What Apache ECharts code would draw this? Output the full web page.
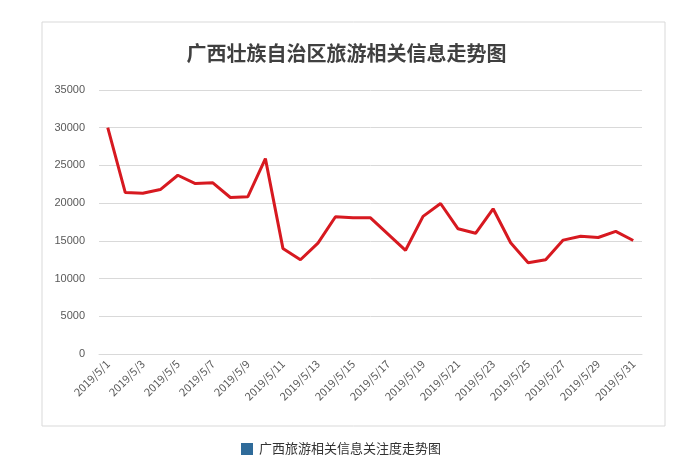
<!DOCTYPE html>
<html><head><meta charset="utf-8">
<script src="https://cdn.jsdelivr.net/npm/echarts@6/dist/echarts.min.js"></script>
<style>html,body{margin:0;padding:0;background:#fff}#c{width:693px;height:470px}</style>
</head><body><div id="c"></div>
<script>
const categories = Array.from({length:31},(_, i)=>'2019/5/'+(i+1));
const values = [30000,21400,21300,21800,23700,22600,22700,20750,20850,25900,14000,12500,14700,18200,18050,18050,15900,13750,18250,19950,16600,16000,19250,14750,12100,12500,15100,15600,15450,16250,15050];
const chart = echarts.init(document.getElementById('c'));
chart.setOption({
  animation:false,
  graphic:[
    {type:'rect',shape:{x:42,y:22,width:623,height:404},style:{fill:'none',stroke:'#d9d9d9',lineWidth:1}},
    {type:'rect',shape:{x:241,y:443,width:12,height:12},style:{fill:'#2f6b9a'}},
    {type:'text',left:259,top:442,style:{text:'广西旅游相关信息关注度走势图',fill:'#333',font:'13px "Noto Sans CJK SC"'}}
  ],
  title:{text:'广西壮族自治区旅游相关信息走势图',left:'center',top:38,textStyle:{fontFamily:'Noto Sans CJK SC',fontSize:20,fontWeight:'bold',color:'#404040'}},
  grid:{left:99,right:51,top:90,bottom:116},
  xAxis:{type:'category',data:categories,boundaryGap:true,
    axisLine:{lineStyle:{color:'#d9d9d9'}},axisTick:{show:false},
    axisLabel:{interval:1,rotate:45,color:'#595959',fontSize:11,fontFamily:'Noto Sans CJK SC',margin:8}},
  yAxis:{type:'value',min:0,max:35000,interval:5000,
    axisLine:{show:false},axisTick:{show:false},
    splitLine:{lineStyle:{color:'#d9d9d9'}},
    axisLabel:{color:'#595959',fontSize:11,margin:14,formatter:v=>String(v)}},
  series:[{type:'line',data:values,symbol:'none',lineStyle:{color:'#d71920',width:3}}]
});
</script></body></html>
